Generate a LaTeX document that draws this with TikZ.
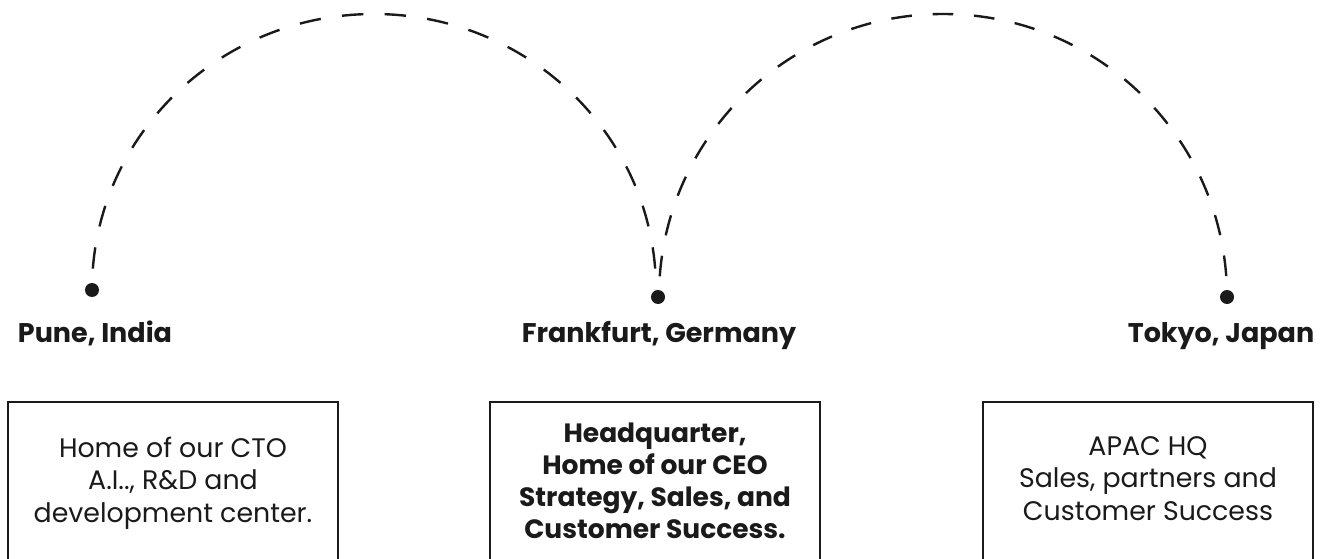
\documentclass[tikz,border=0pt]{standalone}
\usepackage{fontspec}
\setmainfont{Poppins}
\definecolor{ink}{HTML}{1A1A1A}
\begin{document}
\begin{tikzpicture}[x=1pt,y=1pt,
  route/.style={draw=ink,line width=2.4pt,dash pattern=on #1 off #1,dash phase=#1},
  pin/.style={circle,fill=ink,inner sep=0pt,minimum size=14pt},
  city/.style={font=\fontsize{27}{30}\selectfont\bfseries,text=ink,anchor=base,inner sep=0pt},
  info/.style={font=\fontsize{26.8}{32.5}\selectfont,text=ink,align=center,anchor=base,inner sep=0pt},
  frame/.style={draw=ink,line width=2.6pt}]
\useasboundingbox (0,0) rectangle (1322,558);
\clip (0,0) rectangle (1322,558);
\fill[white] (0,0) rectangle (1322,558);
% dots
\node[pin] (pune) at (92,268) {};
\node[pin] (fra) at (658,261) {};
\node[pin] (tok) at (1227,261) {};
% arcs
\draw[route=21.38pt] (pune.center) arc[start angle=180,end angle=0,x radius=282,y radius=276] coordinate (a1end);
\draw[route=20.71pt] (fra.center) ++(1,0) arc[start angle=180,end angle=0,x radius=284,y radius=283] coordinate (a2end);
% city labels
\node[city] (lpune) at (95,216) {Pune, India};
\node[city] (lfra) at (659,216) {Frankfurt, Germany};
\node[city] (ltok) at (1221,216) {Tokyo, Japan};
% boxes
\node[info] (tpune) at (173,36) {Home of our CTO\\A.I.., R\&D and\\development center.};
\node[info,font=\fontsize{26.5}{32}\selectfont\bfseries] (tfra) at (655,20) {Headquarter,\\Home of our CEO\\Strategy, Sales, and\\Customer Success.};
\node[info] (ttok) at (1148,38) {APAC HQ\\Sales, partners and\\Customer Success};
\draw[frame] (8,-10) -- (8,156) -- (338,156) -- (338,-10);
\draw[frame] (490,-10) -- (490,156) -- (820,156) -- (820,-10);
\draw[frame] (983,-10) -- (983,156) -- (1313,156) -- (1313,-10);
\end{tikzpicture}
\end{document}
